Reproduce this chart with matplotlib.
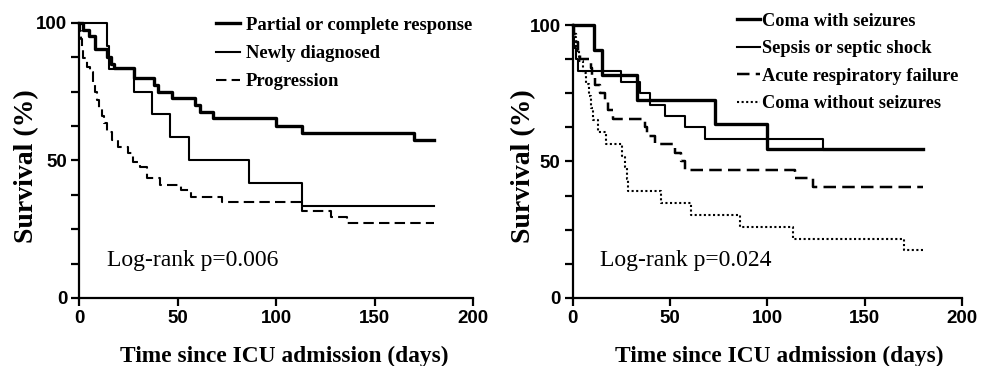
import matplotlib
matplotlib.use("Agg")
import matplotlib.pyplot as plt

# ---- Left panel data (time in days, survival %) ----
partial_t = [0, 2, 5, 8, 14, 16, 18, 28, 38, 40, 47, 59, 61.5, 68, 100, 113, 170, 180]
partial_s = [100, 97.5, 95, 90.5, 87.5, 85, 83.5, 80, 77.4, 75, 72.5, 70, 67.7, 65.3, 62.5, 60, 57.4, 57.4]

newly_t = [0, 14, 15, 28, 37, 46, 56, 86.5, 113, 180]
newly_s = [100, 91.7, 83.3, 75, 66.7, 58.3, 50, 41.7, 33.3, 33.3]

prog_t = [0, 0.5, 1, 1.5, 2, 4, 5.5, 7, 8, 9, 10, 11.5, 12.5, 14, 16.6, 20, 25, 27.6, 31,
          34.4, 41, 52, 57, 72.5, 113, 128, 136, 180]
prog_s = [100, 97, 94, 90, 87, 84, 82, 78, 75, 72, 69, 66, 63.5, 60.4, 57.4, 55, 52.6, 49.5, 47.7,
          43.5, 41, 39.2, 36.8, 35, 31.7, 29.4, 27.4, 27.4]

left_labels = ["Partial or complete response", "Newly diagnosed", "Progression"]

# ---- Right panel data ----
coma_sz_t = [0, 11, 15, 33, 73, 100, 180]
coma_sz_s = [100, 90.9, 81.8, 72.7, 63.6, 54.5, 54.5]

sepsis_t = [0, 0.5, 1, 2, 3, 25, 34.7, 39.8, 47.5, 57.8, 68, 128.8, 180]
sepsis_s = [100, 95.8, 91.7, 87.5, 83.3, 79.2, 75, 70.8, 66.7, 62.5, 58.3, 54.2, 54.2]

arf_t = [0, 1, 2, 3, 4, 9.7, 10, 11.4, 14, 16.7, 18.2, 20.8, 37, 38, 42.2, 52.5, 55.9, 57.6,
         114, 123.7, 180]
arf_s = [100, 96.9, 93.8, 90.6, 87.5, 84.4, 81.3, 78.1, 75, 71.9, 68.8, 65.6, 62.5, 59.4, 56.3,
         53.1, 50, 46.9, 43.8, 40.6, 40.6]

coma_nosz_t = [0, 1, 2, 3.5, 5.5, 7, 8.5, 9.5, 10.5, 13, 17, 25.5, 27, 28, 28.5, 45.6, 61, 86,
               113.4, 170, 180]
coma_nosz_s = [100, 95.7, 91.3, 87, 82.6, 78.3, 73.9, 69.6, 65.2, 60.9, 56.5, 52.2, 47.8, 43.5,
               39.1, 34.8, 30.4, 26.1, 21.7, 17.4, 17.4]

right_labels = ["Coma with seizures", "Sepsis or septic shock",
                "Acute respiratory failure", "Coma without seizures"]

pvals = ["Log-rank p=0.006", "Log-rank p=0.024"]

SERIF = "Liberation Serif"
SANS = "Liberation Sans"

fig = plt.figure(figsize=(9.9, 3.66), dpi=100)
axL = fig.add_axes([0.0798, 0.1858, 0.398, 0.7522])
axR = fig.add_axes([0.5783, 0.1866, 0.3934, 0.7443])

THICK = 2.4
THIN = 1.5

def style(ax, ptext, xl_x, xl_y, yl_x, yl_y):
    ax.set_xlim(0, 200)
    ax.set_ylim(0, 100)
    ax.spines["top"].set_visible(False)
    ax.spines["right"].set_visible(False)
    for s in ("left", "bottom"):
        ax.spines[s].set_linewidth(1.6)
    ax.set_xticks([0, 50, 100, 150, 200])
    ax.set_yticks([0, 50, 100])
    ax.set_yticks([12.5, 25, 37.5, 62.5, 75, 87.5], minor=True)
    ax.tick_params(axis="both", which="major", direction="out", length=6, width=1.6,
                   labelsize=13.5, pad=2.5)
    ax.tick_params(axis="y", which="minor", direction="out", length=6, width=1.6)
    for lab in ax.get_xticklabels() + ax.get_yticklabels():
        lab.set_fontfamily(SANS)
        lab.set_fontweight("bold")
    ax.set_xlabel("Time since ICU admission (days)", fontfamily=SERIF, fontweight="bold",
                  fontsize=16.8)
    ax.xaxis.set_label_coords(xl_x, xl_y)
    ax.set_ylabel("Survival (%)", fontfamily=SERIF, fontweight="bold", fontsize=20)
    ax.yaxis.set_label_coords(yl_x, yl_y)
    ax.text(14, 13.8, ptext, fontfamily=SERIF, fontsize=17, va="center", ha="left")

# Left
axL.step(partial_t, partial_s, where="post", color="black", lw=THICK, label=left_labels[0],
         clip_on=False)
axL.step(newly_t, newly_s, where="post", color="black", lw=THIN, label=left_labels[1],
         clip_on=False)
axL.step(prog_t, prog_s, where="post", color="black", lw=THIN, ls=(0, (5, 2.5)),
         label=left_labels[2], clip_on=False)
style(axL, pvals[0], 0.52, -0.174, -0.101, 0.479)
axL.legend(loc="upper left", bbox_to_anchor=(0.304, 1.082), frameon=False,
           prop={"family": SERIF, "weight": "bold", "size": 13.4}, handlelength=1.34,
           handletextpad=0.3, labelspacing=0.6)

# Right
axR.step(coma_sz_t, coma_sz_s, where="post", color="black", lw=THICK, label=right_labels[0],
         clip_on=False)
axR.step(sepsis_t, sepsis_s, where="post", color="black", lw=THIN, label=right_labels[1],
         clip_on=False)
axR.step(arf_t, arf_s, where="post", color="black", lw=THIN * 1.2, ls=(0, (5, 2.5)),
         label=right_labels[2], clip_on=False)
axR.step(coma_nosz_t, coma_nosz_s, where="post", color="black", lw=THIN, ls=(0, (1, 1.2)),
         label=right_labels[3], clip_on=False)
style(axR, pvals[1], 0.53, -0.176, -0.093, 0.483)
axR.legend(loc="upper left", bbox_to_anchor=(0.38, 1.106), frameon=False,
           prop={"family": SERIF, "weight": "bold", "size": 13.2}, handlelength=1.26,
           handletextpad=0.1, labelspacing=0.57)

fig.savefig("out.png", dpi=100)
